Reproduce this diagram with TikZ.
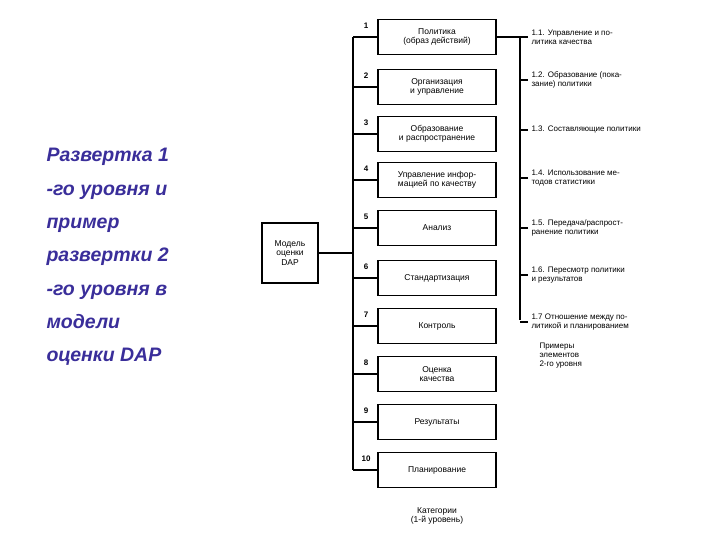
\documentclass[tikz,border=0pt]{standalone}
\usepackage{fontspec}
\setmainfont{Liberation Sans}
\definecolor{ttl}{HTML}{3A2E9A}
\begin{document}
\begin{tikzpicture}[x=1pt,y=-1pt,
  cat/.style={draw,line width=1.3pt,minimum width=118pt,minimum height=35pt,align=center,font=\fontsize{8.5}{9.5}\selectfont,inner sep=1pt},
  num/.style={font=\fontsize{8}{9}\selectfont\bfseries},
  lab/.style={anchor=west,align=left,font=\fontsize{8}{9}\selectfont},
  ln/.style={line width=1.3pt}]
\useasboundingbox (0,0) rectangle (720,540);
\node[anchor=west,align=left,text=ttl,font=\fontsize{19.5}{33.3}\selectfont\bfseries\itshape] (title) at (43,257)
 {Развертка 1\\-го уровня и\\пример\\развертки 2\\-го уровня в\\модели\\оценки DAP};
\node[draw,line width=1.3pt,minimum width=56pt,minimum height=60pt,align=center,font=\fontsize{8.5}{9.5}\selectfont] (m) at (290,253) {Модель\\оценки\\DAP};
\foreach \i/\y/\t in {1/37/{Политика\\(образ действий)},2/87/{Организация\\и управление},3/134/{Образование\\и распространение},4/180/{Управление инфор-\\мацией по качеству},5/228/{Анализ},6/278/{Стандартизация},7/326/{Контроль},8/374/{Оценка\\качества},9/422/{Результаты},10/470/{Планирование}}{
  \node[cat] (c\i) at (437,\y) {\t};
  \coordinate (b\i) at (353,\y);
  \draw[ln] (b\i) -- (c\i.west);
  \node[num] (n\i) at (366,\y-11) {\i};
}
\coordinate (bm) at (353,253);
\draw[ln] (353,37) -- (353,470);
\draw[ln] (m.east) -- (bm);
\coordinate (r0) at (520,37);
\draw[ln] (c1.east) -- (r0);
\draw[ln] (r0) -- (520,320);
\foreach \j/\y/\t in {1/37/{1.1. Управление и по-\\литика качества},2/80/{1.2. Образование (пока-\\зание) политики},3/130/{1.3. Составляющие политики},4/178/{1.4. Использование ме-\\тодов статистики},5/228/{1.5. Передача/распрост-\\ранение политики},6/275/{1.6. Пересмотр политики\\и результатов},7/322/{1.7 Отношение между по-\\литикой и планированием}}{
  \coordinate (t\j) at (528,\y);
  \draw[ln] (520,\y) -- (t\j);
  \node[lab] (l\j) at (t\j) {\t};
}
\node[lab] (ex) at (536,356) {Примеры\\элементов\\2-го уровня};
\node[align=center,font=\fontsize{8.5}{9.5}\selectfont] (cap) at (437,516) {Категории\\(1-й уровень)};
\end{tikzpicture}
\end{document}
